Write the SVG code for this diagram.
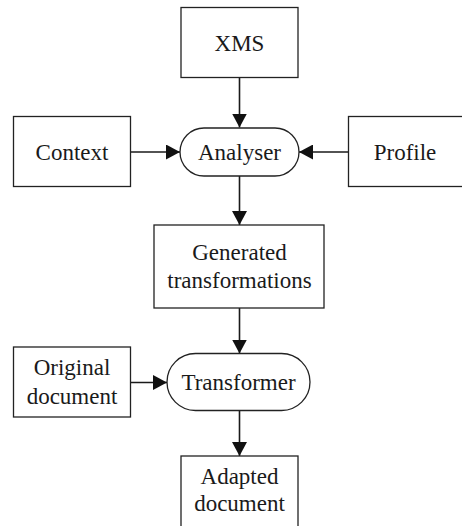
<svg xmlns="http://www.w3.org/2000/svg" width="462" height="526" viewBox="0 0 462 526">
<defs>
<style>
.box{fill:#fff;stroke:#222;stroke-width:1.3}
.t{font-family:"Liberation Serif","Times New Roman",serif;font-size:23px;fill:#1a1a1a;text-anchor:middle}
.c{stroke:#1a1a1a;stroke-width:1.6;fill:none}
</style>
<marker id="ah" markerUnits="userSpaceOnUse" markerWidth="15" markerHeight="15" refX="14" refY="7.5" orient="auto">
<path d="M0,0 L14,7.5 L0,15 Z" fill="#111"/>
</marker>
</defs>
<rect width="462" height="526" fill="#fff"/>
<g id="connectors">
<line class="c" x1="239.5" y1="77" x2="239.5" y2="127.5" marker-end="url(#ah)"/>
<line class="c" x1="131" y1="152" x2="180" y2="152" marker-end="url(#ah)"/>
<line class="c" x1="348" y1="152" x2="299" y2="152" marker-end="url(#ah)"/>
<line class="c" x1="239.5" y1="176" x2="239.5" y2="225" marker-end="url(#ah)"/>
<line class="c" x1="239.5" y1="308" x2="239.5" y2="353.5" marker-end="url(#ah)"/>
<line class="c" x1="131" y1="382.5" x2="167" y2="382.5" marker-end="url(#ah)"/>
<line class="c" x1="239.5" y1="411" x2="239.5" y2="456" marker-end="url(#ah)"/>
</g>
<g id="xms"><rect class="box" x="181" y="7.5" width="117" height="70"/><text class="t" x="239.5" y="51">XMS</text></g>
<g id="context"><rect class="box" x="13.5" y="116.5" width="117" height="70"/><text class="t" x="72" y="159.5">Context</text></g>
<g id="profile"><rect class="box" x="348.5" y="116.5" width="120" height="70"/><text class="t" x="405" y="159.5">Profile</text></g>
<g id="analyser"><rect class="box" x="180" y="128" width="119" height="48" rx="24" ry="24"/><text class="t" x="239.5" y="159.5">Analyser</text></g>
<g id="generated"><rect class="box" x="154" y="225" width="170" height="83"/><text class="t" x="239.5" y="260">Generated</text><text class="t" x="239.5" y="287.5">transformations</text></g>
<g id="original"><rect class="box" x="13.5" y="347" width="117" height="70"/><text class="t" x="72" y="375">Original</text><text class="t" x="72" y="403.5">document</text></g>
<g id="transformer"><rect class="box" x="167" y="353.5" width="143" height="57" rx="28.5" ry="28.5"/><text class="t" x="238.5" y="389.5">Transformer</text></g>
<g id="adapted"><rect class="box" x="181" y="456" width="117" height="75"/><text class="t" x="239.5" y="483.5">Adapted</text><text class="t" x="239.5" y="511">document</text></g>
</svg>
